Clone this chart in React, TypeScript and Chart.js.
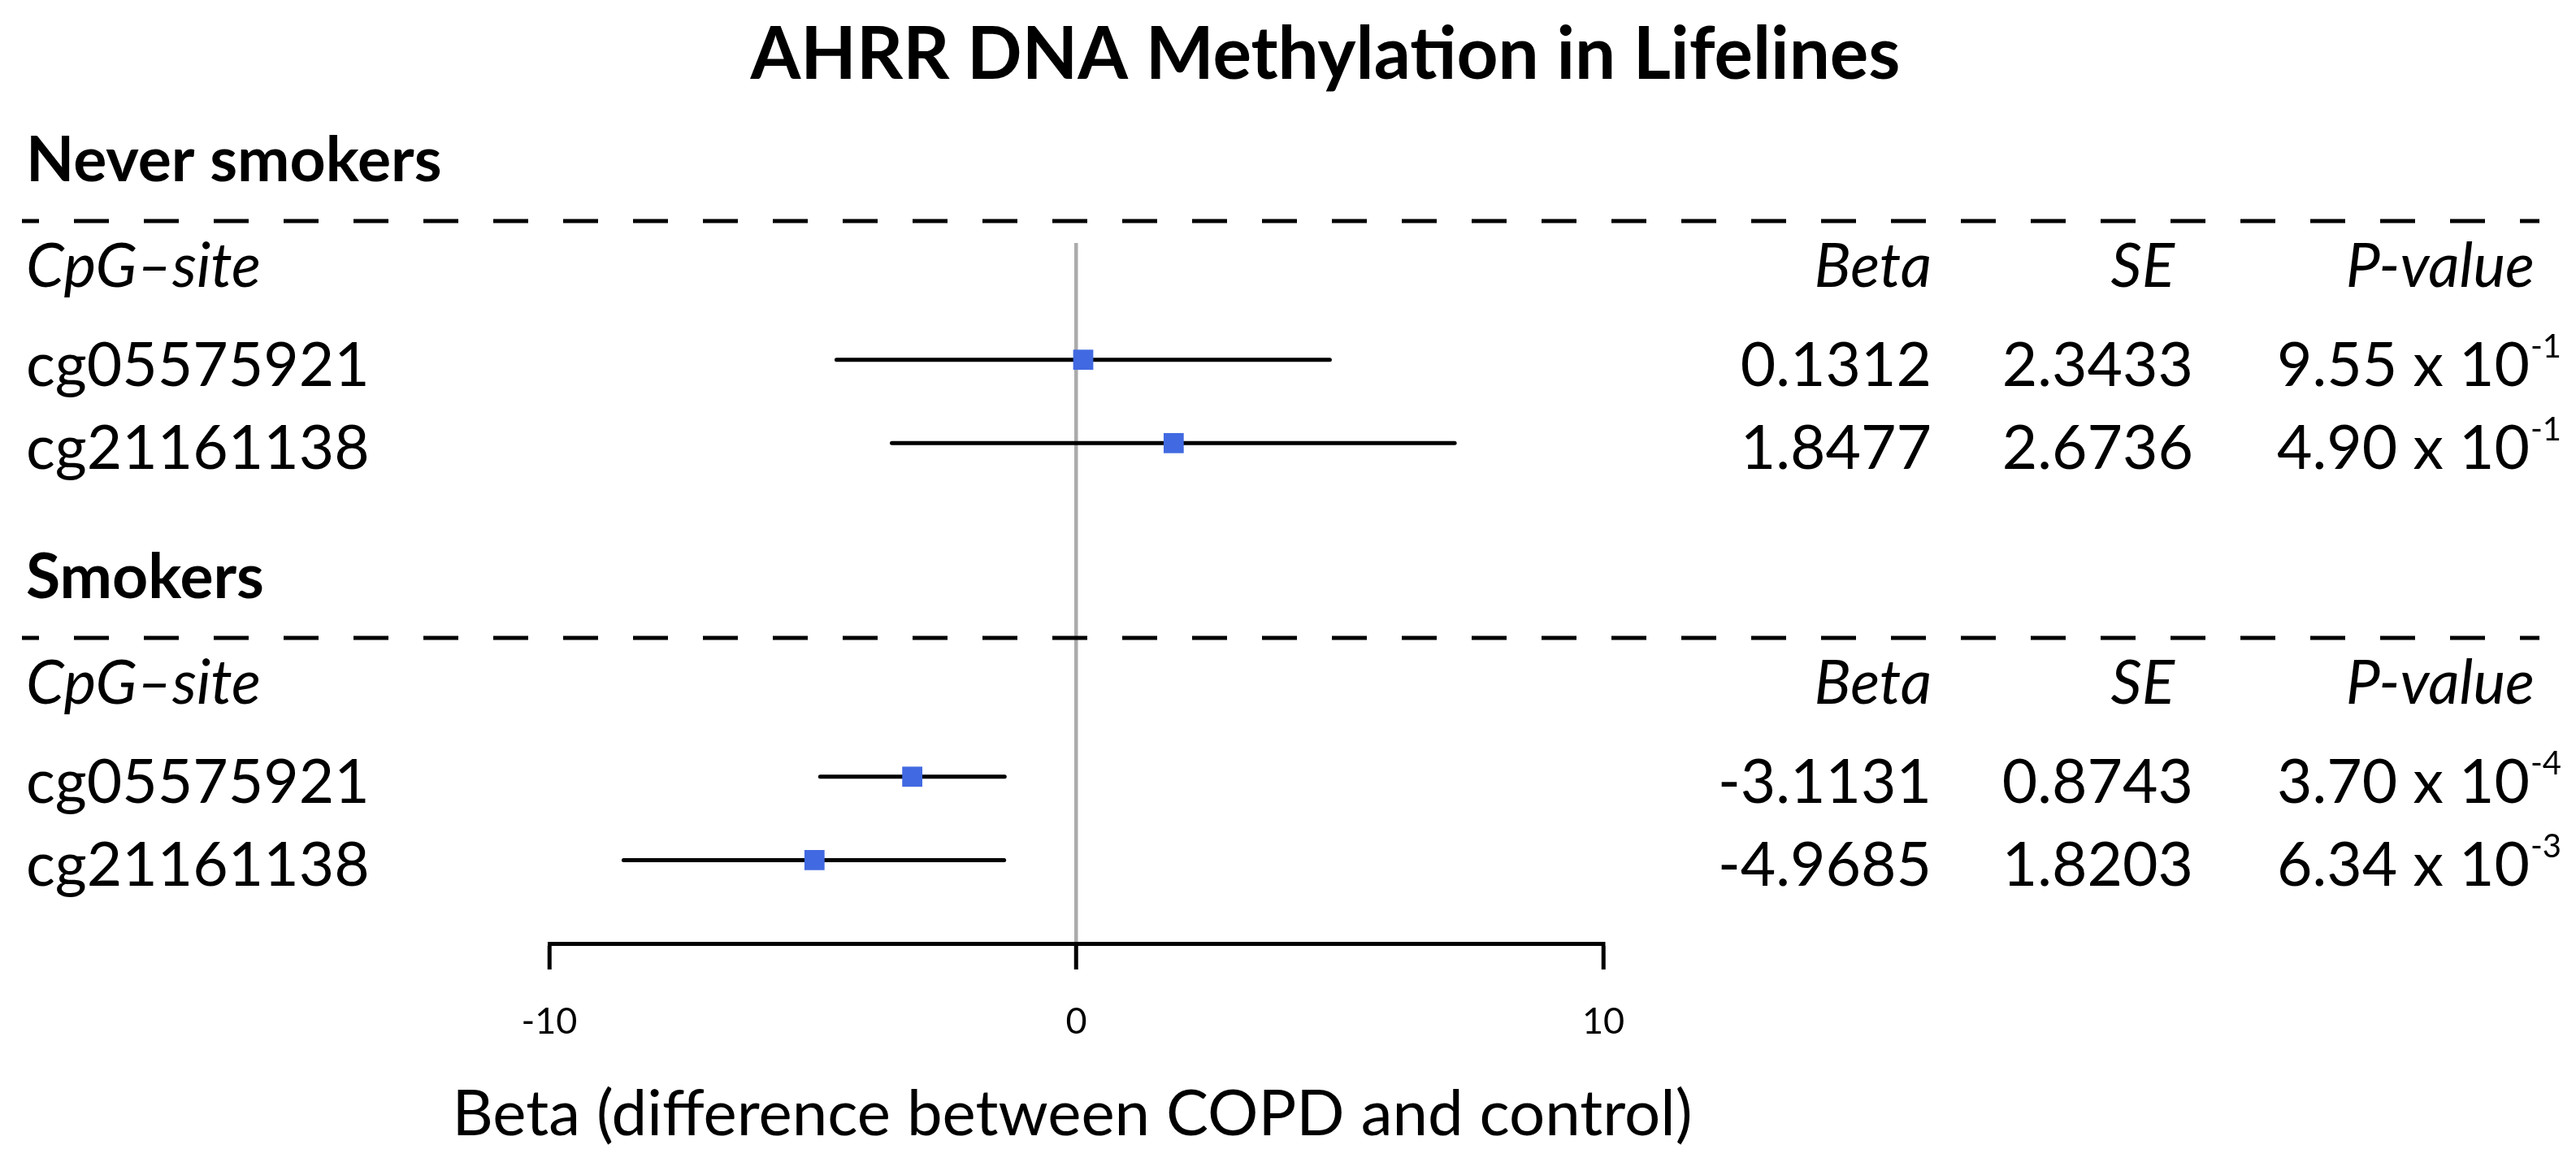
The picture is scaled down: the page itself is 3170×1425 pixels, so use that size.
import React, { useEffect, useRef } from 'react';
import { Chart, registerables } from 'chart.js';

Chart.register(...registerables);

// ---------- data ----------
const chartTitle = 'AHRR DNA Methylation in Lifelines';
const groupNames = ['Never smokers', 'Smokers'];
const groupFirstRow = [1, 6];
const rowHeaderLabel = 'CpG–site';
const columnHeaders = ['Beta', 'SE', 'P-value'];
const cpgSites = ['cg05575921', 'cg21161138', 'cg05575921', 'cg21161138'];
const rowPositions = [1, 2, 6, 7];
const betaValues = [0.1312, 1.8477, -3.1131, -4.9685];
const ciLower = [-4.55, -3.5, -4.86, -8.59];
const ciUpper = [4.81, 7.18, -1.36, -1.37];
const betaLabels = ['0.1312', '1.8477', '-3.1131', '-4.9685'];
const seLabels = ['2.3433', '2.6736', '0.8743', '1.8203'];
const pMantissa = ['9.55 x 10', '4.90 x 10', '3.70 x 10', '6.34 x 10'];
const pExponent = ['-1', '-1', '-4', '-3'];
const xTickValues = [-10, 0, 10];
const xAxisTitle = 'Beta (difference between COPD and control)';

// ---------- layout ----------
const W = 3170;
const H = 1425;
const FONT = 'Lato, "Open Sans", "DejaVu Sans", sans-serif';

const tablePlugin = {
  id: 'forestTable',
  afterDraw(chart: any) {
    const ctx: CanvasRenderingContext2D = chart.ctx;
    const y = chart.scales.y;
    const x = chart.scales.x;
    ctx.save();
    ctx.fillStyle = '#000';
    ctx.textBaseline = 'alphabetic';

    // main title
    ctx.font = `bold 89px ${FONT}`;
    ctx.textAlign = 'center';
    ctx.fillText(chartTitle, 1631, 97);

    // x axis title (wider than the axis itself, so drawn here)
    ctx.font = `78px ${FONT}`;
    ctx.textAlign = 'center';
    ctx.fillText(xAxisTitle, x.getPixelForValue(0) - 5, 1397);

    groupNames.forEach((name, g) => {
      const base = y.getPixelForValue(groupFirstRow[g]);
      ctx.font = `bold 77px ${FONT}`;
      ctx.textAlign = 'left';
      ctx.fillText(name, 32, base - 220);

      // dashed separator
      ctx.save();
      ctx.beginPath();
      ctx.setLineDash([43, 43]);
      ctx.lineDashOffset = 22;
      ctx.lineWidth = 5;
      ctx.strokeStyle = '#000';
      const dy = Math.round(base - 171);
      ctx.moveTo(27, dy);
      ctx.lineTo(3125, dy);
      ctx.stroke();
      ctx.restore();

      // column headers
      const hy = base - 90;
      ctx.font = `italic 75px ${FONT}`;
      ctx.textAlign = 'left';
      ctx.fillText(rowHeaderLabel, 32, hy);
      ctx.textAlign = 'right';
      ctx.fillText(columnHeaders[0], 2377, hy);
      ctx.fillText(columnHeaders[1], 2676, hy);
      ctx.fillText(columnHeaders[2], 3119, hy);
    });

    rowPositions.forEach((r, i) => {
      const by = y.getPixelForValue(r) + 32;
      ctx.font = `75px ${FONT}`;
      ctx.textAlign = 'left';
      ctx.fillText(cpgSites[i], 32, by);
      ctx.textAlign = 'right';
      ctx.fillText(betaLabels[i], 2377, by);
      ctx.fillText(seLabels[i], 2699, by);
      ctx.fillText(pMantissa[i], 3113, by);
      ctx.font = `40px ${FONT}`;
      ctx.textAlign = 'left';
      ctx.fillText(pExponent[i], 3114, by - 35);
    });

    ctx.restore();
  },
};

export default function App() {
  const canvasRef = useRef<HTMLCanvasElement | null>(null);

  useEffect(() => {
    if (!canvasRef.current) return;
    const datasets: any[] = [
      {
        type: 'scatter',
        label: 'Beta',
        data: betaValues.map((b, i) => ({ x: b, y: rowPositions[i] })),
        pointStyle: 'rect',
        pointRadius: 17.5,
        pointHoverRadius: 17.5,
        backgroundColor: '#4169E1',
        pointBackgroundColor: '#4169E1',
        borderWidth: 0,
        pointBorderWidth: 0,
        order: 0,
      },
      ...rowPositions.map((r, i) => ({
        type: 'line',
        label: 'CI ' + cpgSites[i],
        data: [
          { x: ciLower[i], y: r },
          { x: ciUpper[i], y: r },
        ],
        borderColor: '#000',
        borderWidth: 5,
        borderCapStyle: 'round',
        pointRadius: 0,
        pointHoverRadius: 0,
        fill: false,
        order: 1,
      })),
    ];

    const chart = new Chart(canvasRef.current, {
      type: 'line',
      data: { datasets },
      options: {
        responsive: false,
        animation: false,
        devicePixelRatio: 1,
        events: [],
        layout: { padding: { left: 676, right: 1197, top: 299, bottom: 0 } },
        plugins: {
          legend: { display: false },
          title: { display: false },
          tooltip: { enabled: false },
        },
        scales: {
          x: {
            type: 'linear',
            position: 'bottom',
            min: -10,
            max: 10,
            afterBuildTicks: (s: any) => {
              s.ticks = xTickValues.map((v) => ({ value: v }));
            },
            afterFit: (s: any) => {
              s.height = 264;
            },
            grid: {
              drawOnChartArea: true,
              color: (c: any) => (c.tick && c.tick.value === 0 ? '#ababab' : 'rgba(0,0,0,0)'),
              lineWidth: 4.5,
              drawTicks: true,
              tickLength: 32,
              tickColor: '#000',
              tickWidth: 5,
            },
            border: { display: true, color: '#000', width: 5 },
            ticks: {
              font: { family: FONT, size: 45 },
              color: '#000',
              padding: 37,
              maxRotation: 0,
              autoSkip: false,
            },
            title: { display: false },
          },
          y: {
            type: 'linear',
            display: false,
            min: -0.4,
            max: 8,
            reverse: true,
          },
        },
      } as any,
      plugins: [tablePlugin],
    });

    return () => chart.destroy();
  }, []);

  return (
    <div style={{ position: 'absolute', left: 0, top: 0, width: W, height: H, background: '#fff' }}>
      <canvas ref={canvasRef} width={W} height={H} style={{ width: W, height: H, display: 'block' }} />
    </div>
  );
}
